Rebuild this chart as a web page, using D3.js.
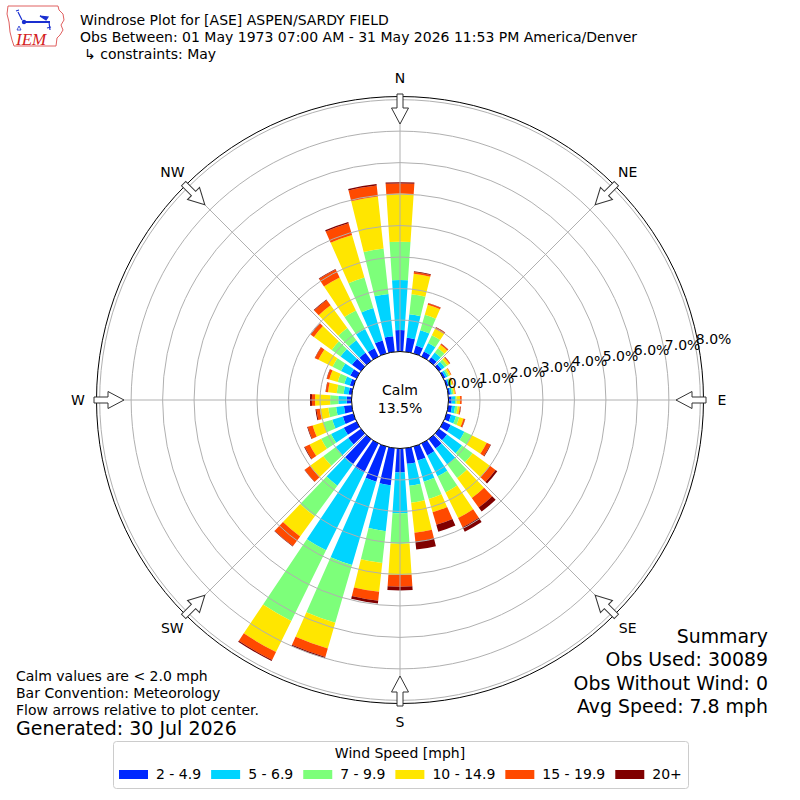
<!DOCTYPE html>
<html lang="en">
<head>
<meta charset="UTF-8">
<title>Windrose Plot for [ASE] ASPEN/SARDY FIELD</title>
<script src="https://d3js.org/d3.v7.min.js"></script>
<style>
    body { margin: 0; background: #fff; }
    svg { font-family: "DejaVu Sans", sans-serif; }
    .ring { fill: none; stroke: #b0b0b0; stroke-width: 1; }
    .spoke { stroke: #b0b0b0; stroke-width: 1; }
</style>
</head>
<body>
<div id="chart"></div>
<script>
// direction of each bar (degrees, meteorological)
const directions = [0, 10, 20, 30, 40, 50, 60, 70, 80, 90, 100, 110, 120, 130, 140, 150, 160, 170,
    180, 190, 200, 210, 220, 230, 240, 250, 260, 270, 280, 290, 300, 310, 320, 330, 340, 350];

// speed classes [mph]
const speedBins = ["2 - 4.9", "5 - 6.9", "7 - 9.9", "10 - 14.9", "15 - 19.9", "20+"];
const speedColors = ["#0028ff", "#00d4ff", "#7dff7a", "#ffe600", "#ff4a00", "#800000"];

// frequency in % per direction, one array per speed class
const s2to5 = [0.68, 0.45, 0.26, 0.18, 0.14, 0.10, 0.07, 0.06, 0.06, 0.10, 0.12, 0.15, 0.26, 0.31, 0.37, 0.42, 0.46, 0.50,
    0.76, 1.18, 1.16, 1.03, 0.98, 0.50, 0.45, 0.35, 0.25, 0.15, 0.10, 0.12, 0.22, 0.35, 0.32, 0.29, 0.43, 0.50];
const s5to7 = [1.59, 0.75, 0.51, 0.30, 0.19, 0.12, 0.07, 0.05, 0.06, 0.11, 0.10, 0.16, 0.48, 0.59, 0.63, 0.74, 0.70, 0.70,
    1.30, 1.47, 2.76, 2.75, 0.85, 0.49, 0.45, 0.35, 0.25, 0.27, 0.16, 0.18, 0.33, 0.45, 0.49, 0.68, 1.07, 1.35];
const s7to10 = [1.22, 0.64, 0.51, 0.27, 0.17, 0.10, 0.06, 0.05, 0.05, 0.05, 0.08, 0.11, 0.26, 0.42, 0.53, 0.57, 0.57, 0.54,
    0.97, 1.02, 1.91, 2.50, 1.21, 0.49, 0.35, 0.30, 0.25, 0.26, 0.22, 0.22, 0.30, 0.35, 0.48, 0.66, 1.01, 1.45];
const s10to15 = [1.53, 0.65, 0.33, 0.23, 0.13, 0.08, 0.06, 0.05, 0.05, 0.11, 0.07, 0.14, 0.53, 0.68, 0.79, 0.91, 0.44, 0.96,
    0.99, 0.92, 0.85, 1.10, 0.79, 0.52, 0.41, 0.35, 0.27, 0.48, 0.28, 0.28, 0.50, 0.70, 0.90, 1.17, 1.41, 1.66];
const s15to20 = [0.32, 0.06, 0.05, 0.05, 0.04, 0.03, 0.02, 0.02, 0.02, 0.05, 0.03, 0.05, 0.13, 0.22, 0.37, 0.32, 0.42, 0.28,
    0.37, 0.28, 0.28, 0.28, 0.38, 0.21, 0.17, 0.16, 0.11, 0.10, 0.07, 0.08, 0.12, 0.12, 0.21, 0.28, 0.39, 0.35];
const s20plus = [0.04, 0.02, 0.01, 0.01, 0.01, 0.01, 0.00, 0.00, 0.00, 0.00, 0.01, 0.01, 0.02, 0.07, 0.16, 0.16, 0.23, 0.26,
    0.12, 0.09, 0.04, 0.04, 0.02, 0.01, 0.02, 0.02, 0.03, 0.06, 0.01, 0.01, 0.01, 0.01, 0.02, 0.02, 0.04, 0.05];

const calmPct = 13.5;
const rTicks = [0, 1, 2, 3, 4, 5, 6, 7, 8];
const compassLabels = ["N", "NE", "E", "SE", "S", "SW", "W", "NW"];
const compassAngles = [0, 45, 90, 135, 180, 225, 270, 315];

const titleLines = [
    "Windrose Plot for [ASE] ASPEN/SARDY FIELD",
    "Obs Between: 01 May 1973 07:00 AM - 31 May 2026 11:53 PM America/Denver",
    "\u21b3 constraints: May"
];
const noteLines = ["Calm values are < 2.0 mph", "Bar Convention: Meteorology", "Flow arrows relative to plot center."];
const generatedText = "Generated: 30 Jul 2026";
const summaryLines = ["Summary", "Obs Used: 30089", "Obs Without Wind: 0", "Avg Speed: 7.8 mph"];

const W = 800, H = 800, cx = 400, cy = 400;
const rad = Math.PI / 180;
const fs = "14px";

const svg = d3.select("#chart").append("svg")
    .attr("width", W).attr("height", H);

// radial scale, 0% starts at the calm circle
const r = d3.scaleLinear().domain([0, 8.1]).range([48.5, 303.5]);
const rMax = r(8.1);

// table for the stack
const series = [s2to5, s5to7, s7to10, s10to15, s15to20, s20plus];
const rows = directions.map((d, i) => {
    const row = { dir: d };
    speedBins.forEach((b, j) => row[b] = series[j][i]);
    return row;
});
const stacked = d3.stack().keys(speedBins)(rows);

const plot = svg.append("g").attr("transform", `translate(${cx},${cy})`);

// bars
const halfW = 3.8;
const arc = d3.arc()
    .innerRadius(d => r(d[0]))
    .outerRadius(d => r(d[1]))
    .startAngle(d => (d.data.dir - halfW) * rad)
    .endAngle(d => (d.data.dir + halfW) * rad);

plot.selectAll("g.layer")
    .data(stacked)
    .enter().append("g")
    .attr("class", "layer")
    .attr("fill", (d, i) => speedColors[i])
    .selectAll("path")
    .data(d => d)
    .enter().append("path")
    .attr("d", arc);

// grid on top of the bars
plot.selectAll(".ring")
    .data(rTicks.slice(1))
    .enter().append("circle")
    .attr("class", "ring")
    .attr("r", d => r(d));

plot.selectAll(".spoke")
    .data(compassAngles)
    .enter().append("line")
    .attr("class", "spoke")
    .attr("x1", 0).attr("y1", 0)
    .attr("x2", d => rMax * Math.sin(d * rad))
    .attr("y2", d => -rMax * Math.cos(d * rad));

plot.append("circle")
    .attr("r", rMax)
    .attr("fill", "none")
    .attr("stroke", "#000")
    .attr("stroke-width", 1);

// calm circle
plot.append("circle")
    .attr("r", r(0))
    .attr("fill", "#fff")
    .attr("stroke", "#000")
    .attr("stroke-width", 1);

plot.append("text")
    .attr("x", 0).attr("y", -10)
    .attr("text-anchor", "middle")
    .attr("dominant-baseline", "central")
    .style("font-size", fs)
    .text("Calm");
plot.append("text")
    .attr("x", 0).attr("y", 8)
    .attr("text-anchor", "middle")
    .attr("dominant-baseline", "central")
    .style("font-size", fs)
    .text(calmPct.toFixed(1) + "%");

// ring labels along 80 deg
const labAng = 80 * rad;
plot.selectAll(".rlabel")
    .data(rTicks)
    .enter().append("text")
    .attr("class", "rlabel")
    .attr("x", d => r(d) * Math.sin(labAng))
    .attr("y", d => -r(d) * Math.cos(labAng) - 8.6)
    .attr("dominant-baseline", "central")
    .style("font-size", fs)
    .text(d => d.toFixed(1) + "%");

// flow arrows pointing to the centre
const arrowPath = "M-3,-306 L3,-306 L3,-292 L8.5,-292 L0,-276 L-8.5,-292 L-3,-292 Z";
plot.selectAll(".arrow")
    .data(compassAngles)
    .enter().append("path")
    .attr("class", "arrow")
    .attr("d", arrowPath)
    .attr("transform", d => `rotate(${d})`)
    .attr("fill", "#fff")
    .attr("stroke", "#333")
    .attr("stroke-width", 1);

plot.selectAll(".dirlabel")
    .data(compassLabels)
    .enter().append("text")
    .attr("class", "dirlabel")
    .attr("x", (d, i) => 322 * Math.sin(compassAngles[i] * rad))
    .attr("y", (d, i) => -322 * Math.cos(compassAngles[i] * rad))
    .attr("text-anchor", "middle")
    .attr("dominant-baseline", "central")
    .style("font-size", fs)
    .text(d => d);

// title
svg.selectAll(".title")
    .data(titleLines)
    .enter().append("text")
    .attr("class", "title")
    .attr("x", (d, i) => i === 2 ? 84 : 80)
    .attr("y", (d, i) => 25 + i * 17)
    .style("font-size", fs)
    .text(d => d);

// logo
const logo = svg.append("g");
logo.append("path")
    .attr("d", "M8,6 L58,6 L59,10 L63,14 L64,20 L61,25 L63,30 L60,35 L57,38 L56,46 L14,46 L12,40 L10,32 L9,22 L7,14 Z")
    .attr("fill", "#fff")
    .attr("stroke", "#e06060")
    .attr("stroke-width", 1);
logo.append("line").attr("x1", 24).attr("y1", 22).attr("x2", 50).attr("y2", 22)
    .attr("stroke", "#1a2fd0").attr("stroke-width", 2);
logo.append("circle").attr("cx", 24).attr("cy", 22).attr("r", 2.2).attr("fill", "#1a2fd0");
logo.append("path").attr("d", "M18,12 L22,20 M16,11 L19,10").attr("stroke", "#1a2fd0").attr("stroke-width", 1.2).attr("fill", "none");
logo.append("path").attr("d", "M40,16 L48,17 L46,20 Z M49,22 L50,30 M47,28 L51,27").attr("stroke", "#1a2fd0").attr("stroke-width", 1.2).attr("fill", "#1a2fd0");
logo.append("path").attr("d", "M19,26 L21,30 L17,30 Z").attr("stroke", "#1a2fd0").attr("stroke-width", 0.8).attr("fill", "none");
logo.append("text")
    .attr("x", 16).attr("y", 45)
    .attr("fill", "#d42020")
    .style("font-family", "'Liberation Serif', serif")
    .style("font-style", "italic")
    .style("font-size", "17px")
    .text("IEM");

// notes bottom left
svg.selectAll(".note")
    .data(noteLines)
    .enter().append("text")
    .attr("class", "note")
    .attr("x", 16)
    .attr("y", (d, i) => 681 + i * 17)
    .style("font-size", fs)
    .text(d => d);
svg.append("text")
    .attr("x", 16).attr("y", 735)
    .style("font-size", "19px")
    .text(generatedText);

// summary bottom right
svg.selectAll(".summary")
    .data(summaryLines)
    .enter().append("text")
    .attr("class", "summary")
    .attr("x", 768)
    .attr("y", (d, i) => 643 + i * 23.3)
    .attr("text-anchor", "end")
    .style("font-size", "18.9px")
    .text(d => d);

// legend
const legend = svg.append("g");
legend.append("rect")
    .attr("x", 113.5).attr("y", 741.5)
    .attr("width", 575).attr("height", 47)
    .attr("rx", 3)
    .attr("fill", "#fff")
    .attr("stroke", "#cccccc");
legend.append("text")
    .attr("x", 400).attr("y", 758)
    .attr("text-anchor", "middle")
    .style("font-size", fs)
    .text("Wind Speed [mph]");

let lx = 119;
speedBins.forEach((b, i) => {
    legend.append("rect")
        .attr("x", lx).attr("y", 770)
        .attr("width", 29).attr("height", 9)
        .attr("fill", speedColors[i]);
    const t = legend.append("text")
        .attr("x", lx + 37).attr("y", 779)
        .style("font-size", fs)
        .text(b);
    lx += 37 + t.node().getComputedTextLength() + 10;
});
</script>
</body>
</html>
